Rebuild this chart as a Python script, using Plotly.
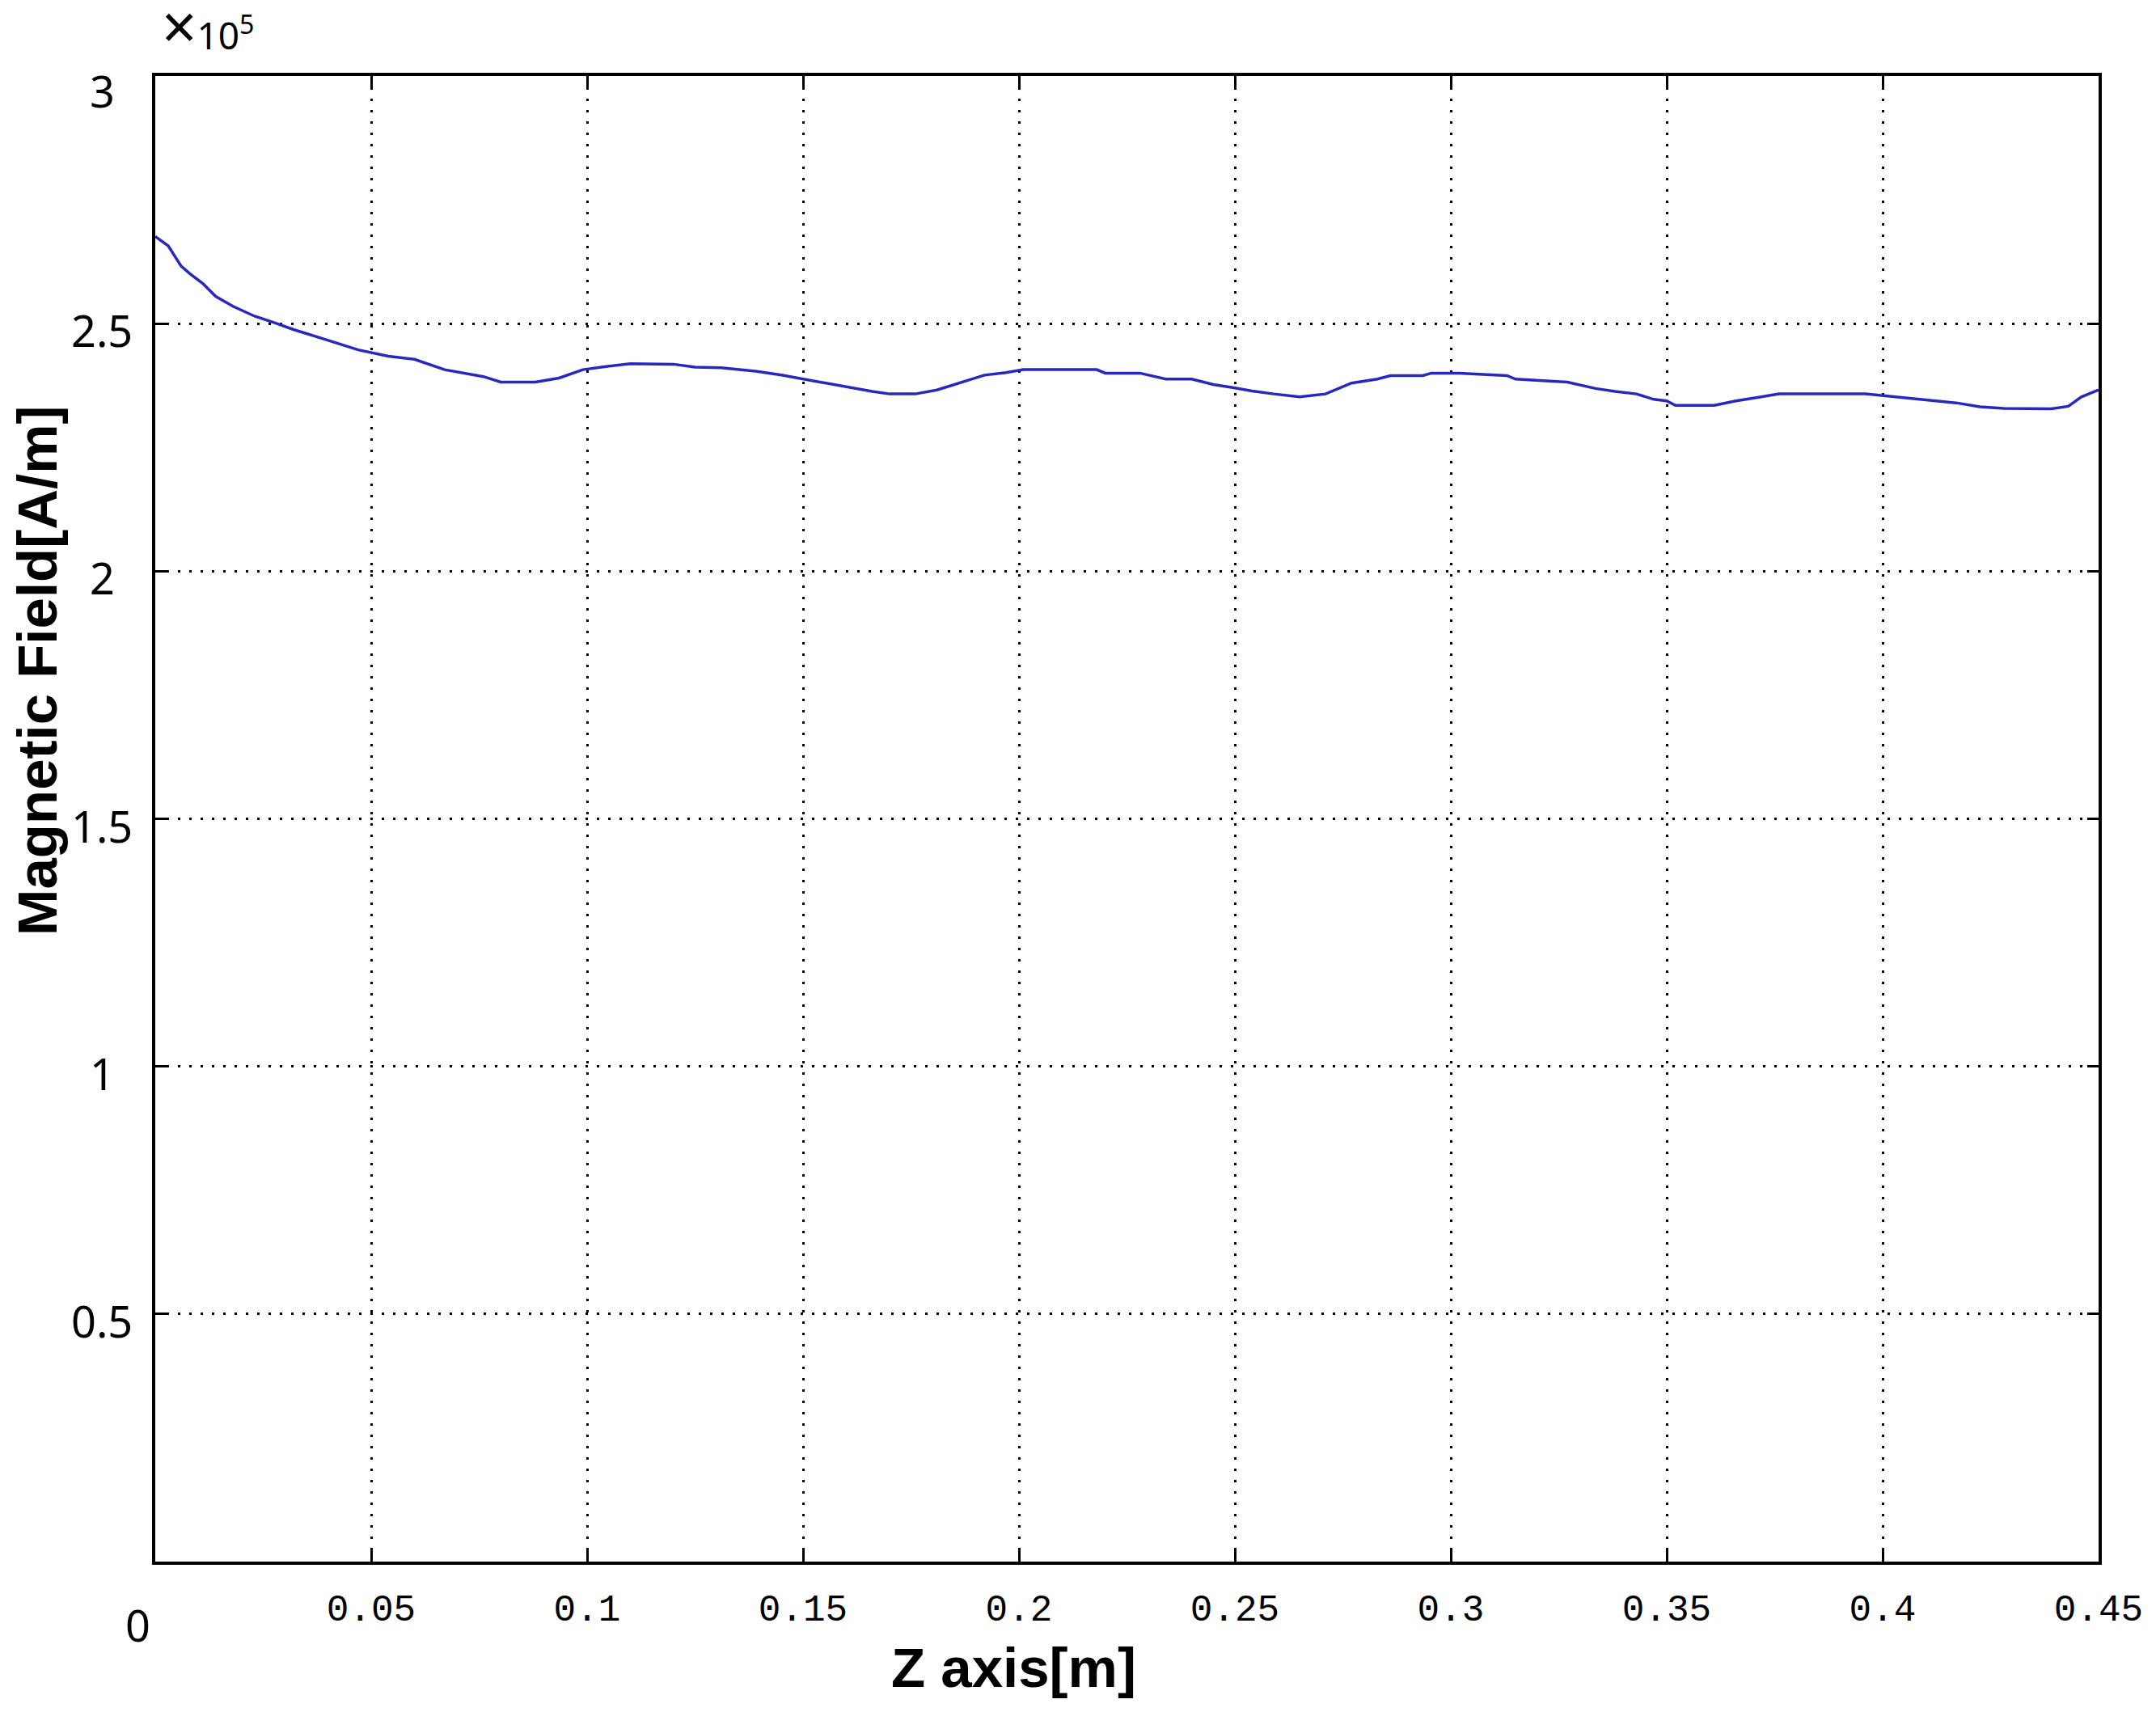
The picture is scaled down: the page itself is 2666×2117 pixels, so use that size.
import plotly.graph_objects as go

# Z position along axis [m]
z_m = [0.0, 0.003, 0.006, 0.008, 0.011, 0.014, 0.018, 0.023, 0.0275, 0.032,
       0.039, 0.047, 0.054, 0.060, 0.067, 0.076, 0.080, 0.088, 0.0935, 0.099,
       0.104, 0.110, 0.120, 0.125, 0.131, 0.139, 0.145, 0.150, 0.1555, 0.161,
       0.166, 0.170, 0.176, 0.181, 0.186, 0.192, 0.197, 0.201, 0.218, 0.220,
       0.228, 0.234, 0.240, 0.245, 0.2495, 0.254, 0.259, 0.265, 0.271, 0.277,
       0.283, 0.286, 0.2935, 0.2955, 0.302, 0.313, 0.315, 0.322, 0.327, 0.3335,
       0.338, 0.343, 0.347, 0.350, 0.352, 0.361, 0.366, 0.371, 0.376, 0.396,
       0.404, 0.411, 0.417, 0.4225, 0.428, 0.439, 0.443, 0.446, 0.450]

# Magnetic field [x1e5 A/m]
h_field = [2.676, 2.657, 2.616, 2.601, 2.581, 2.555, 2.535, 2.515, 2.502, 2.488,
           2.469, 2.447, 2.434, 2.428, 2.407, 2.393, 2.382, 2.382, 2.390, 2.407,
           2.413, 2.419, 2.418, 2.412, 2.411, 2.404, 2.396, 2.388, 2.380, 2.371,
           2.363, 2.358, 2.358, 2.366, 2.380, 2.396, 2.401, 2.407, 2.407, 2.400,
           2.400, 2.388, 2.388, 2.377, 2.371, 2.364, 2.358, 2.352, 2.358, 2.380,
           2.388, 2.395, 2.395, 2.400, 2.400, 2.395, 2.388, 2.384, 2.382, 2.369,
           2.363, 2.358, 2.347, 2.344, 2.335, 2.335, 2.344, 2.351, 2.358, 2.358,
           2.351, 2.344, 2.340, 2.332, 2.329, 2.328, 2.333, 2.352, 2.366]

x_ticks = [0.05, 0.1, 0.15, 0.2, 0.25, 0.3, 0.35, 0.4, 0.45]
x_tick_labels = ["0.05", "0.1", "0.15", "0.2", "0.25", "0.3", "0.35", "0.4", "0.45"]
y_ticks = [0.5, 1, 1.5, 2, 2.5, 3]
y_tick_labels = ["0.5", "1", "1.5", "2", "2.5", "3"]

# page body has an 8px default margin; figure sits at (8, 8)
OFF = 8
W, H = 2666 - OFF, 2117 - OFF
L, R, T, B = 192 - OFF, 71, 94 - OFF, 186
pw, ph = W - L - R, H - T - B

def px(x):
    return (x - OFF - L) / pw

def py(y):
    return (H + OFF - B - y) / ph

fig = go.Figure()
fig.add_trace(go.Scatter(x=z_m, y=h_field, mode="lines",
                         line=dict(color="#2828c0", width=3.5),
                         showlegend=False))

axis_common = dict(
    showline=True, linecolor="black", linewidth=4, mirror="ticks",
    ticks="inside", ticklen=14, tickwidth=3, tickcolor="black",
    showgrid=True, gridcolor="black", gridwidth=3, griddash="3px,11px",
    zeroline=False,
)

fig.update_xaxes(range=[0, 0.45], tickvals=x_ticks, ticktext=x_tick_labels,
                 tickfont=dict(family="Liberation Mono", size=46, color="black"),
                 ticklabelstandoff=14, **axis_common)
fig.update_yaxes(range=[0, 3], tickvals=y_ticks, showticklabels=False,
                 **axis_common)

annotations = []
# y tick labels, centred left of the axis (as in the original)
for v, t in zip(y_ticks, y_tick_labels):
    annotations.append(dict(text=t, x=px(126), xref="paper", y=v, yref="y",
                            yshift=-18 if v == y_ticks[-1] else -8,
                            xanchor="center", yanchor="middle",
                            font=dict(family="Noto Sans", size=54, color="black")))

annotations += [
    dict(text="<b>Magnetic Field[A/m]</b>", x=px(47), y=py(829), textangle=-90,
         font=dict(family="Liberation Sans", size=69, color="black")),
    dict(text="<b>Z axis[m]</b>", x=px(1253), y=py(2062),
         font=dict(family="Liberation Sans", size=69, color="black")),
    dict(text="0", x=px(170), y=py(2009),
         font=dict(family="Noto Sans", size=54, color="black")),
    dict(text="<span style='font-size:76px'>×</span>10<sup>5</sup>",
         x=px(198), y=py(32), xanchor="left", yanchor="middle",
         font=dict(family="Noto Sans", size=46, color="black")),
]
for a in annotations:
    a.setdefault("xanchor", "center")
    a.setdefault("yanchor", "middle")
    a.setdefault("xref", "paper")
    a.setdefault("yref", "paper")
    a.update(showarrow=False)

fig.update_layout(
    width=W, height=H,
    margin=dict(l=L, r=R, t=T, b=B),
    paper_bgcolor="white", plot_bgcolor="white",
    annotations=annotations,
)

fig.write_html("out.html")
